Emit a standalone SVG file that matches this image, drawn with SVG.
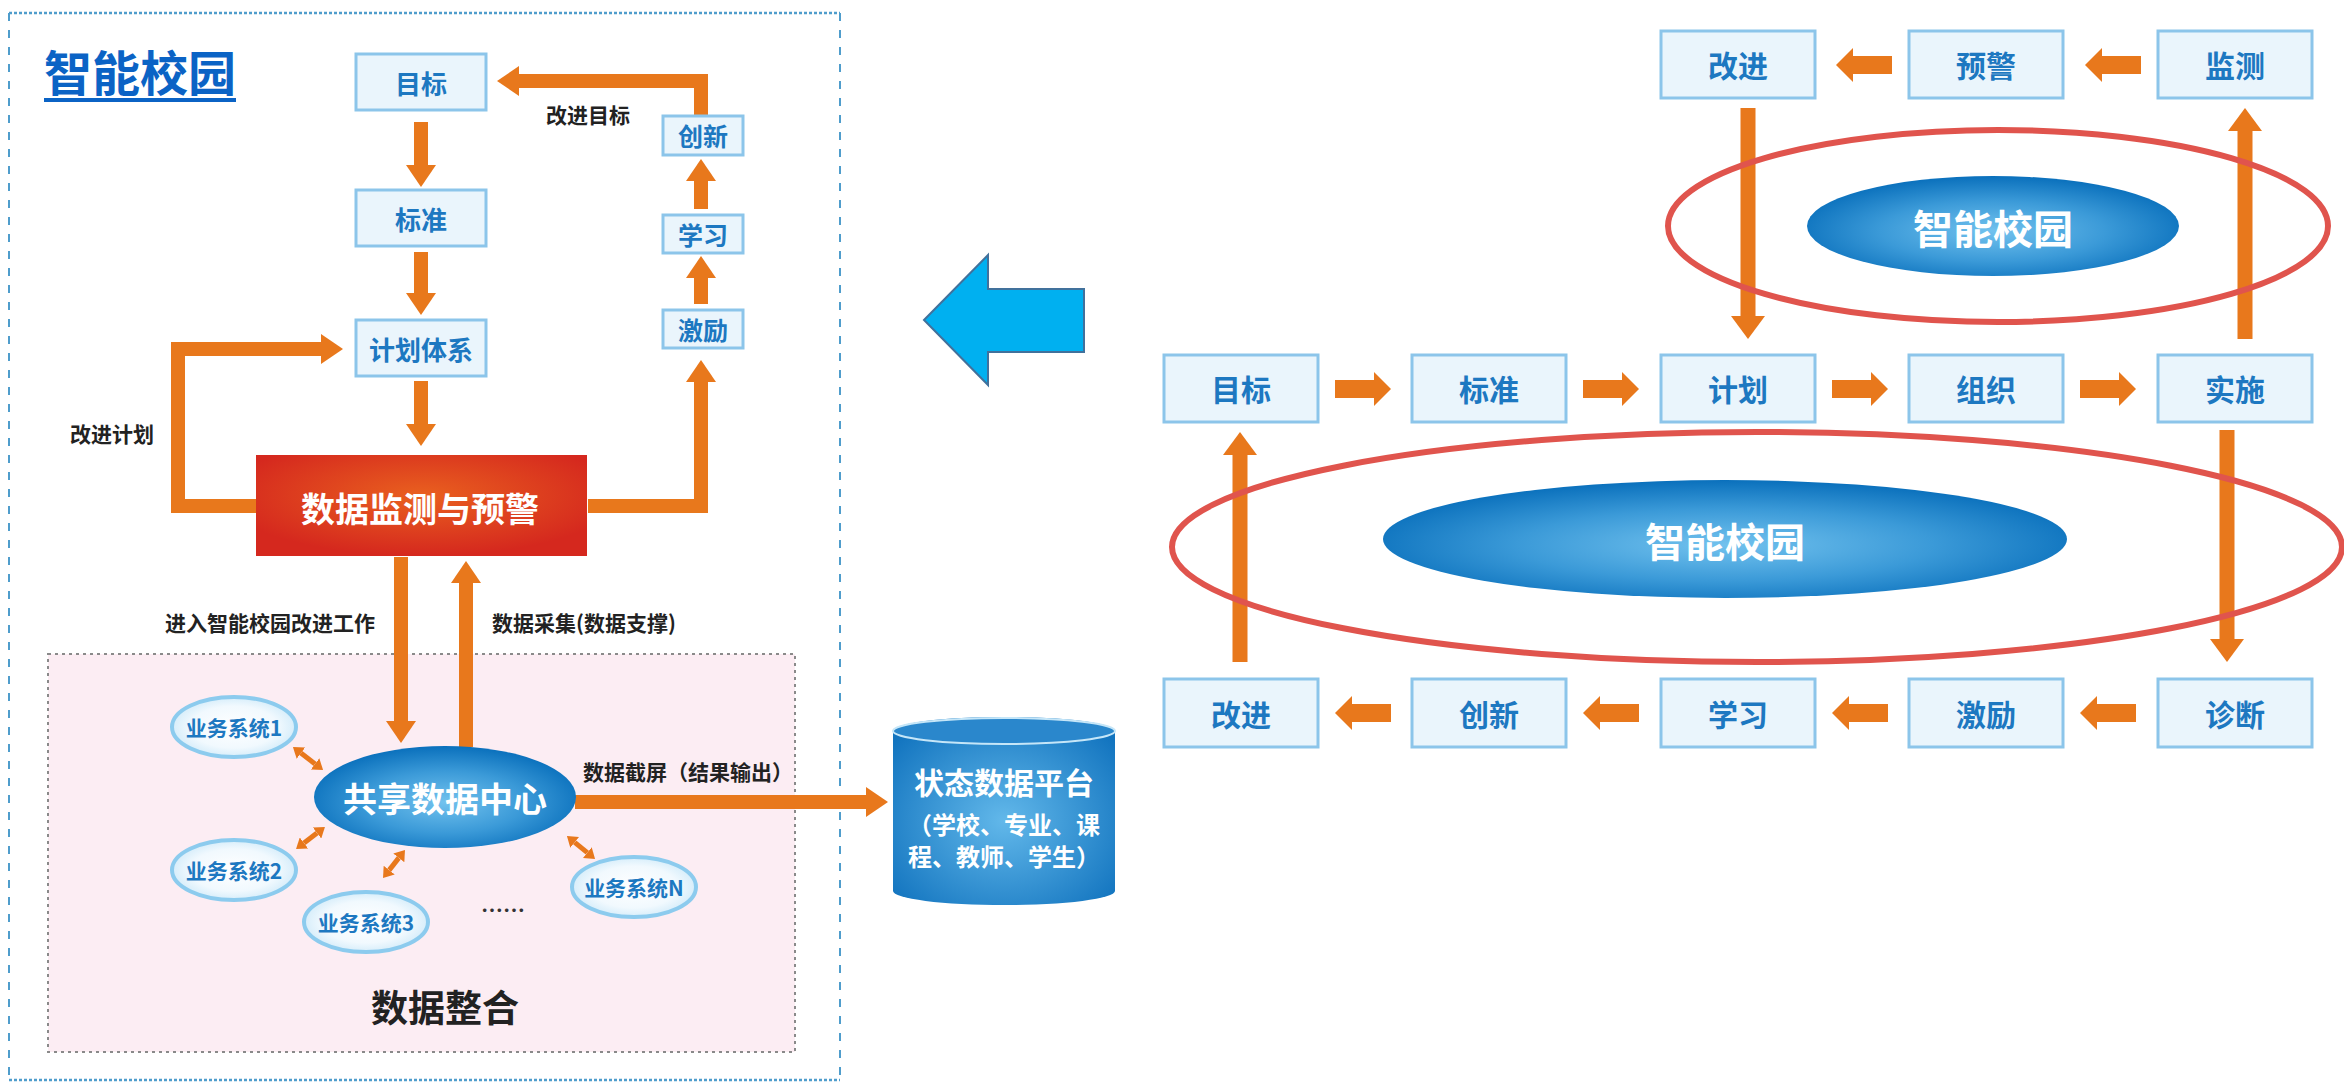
<svg xmlns="http://www.w3.org/2000/svg" width="2344" height="1089" viewBox="0 0 2344 1089">
<defs>
<style>
text{font-family:"Noto Sans CJK SC","Noto Sans",sans-serif;font-weight:700;dominant-baseline:central;text-anchor:middle}
.box{fill:#eaf5fc;stroke:#8cc5ea;stroke-width:3}
.bt{fill:#1d78c1}
.lbl{fill:#222;font-size:21px}
.sys{fill:url(#gSys);stroke:#8ccbee;stroke-width:4}
.sst{fill:#1d78c1;font-size:21px}
.wt{fill:#fff}
.th{fill:none;stroke:#e8781c;stroke-width:14;stroke-linejoin:miter}
.tr{fill:none;stroke:#e8781c;stroke-width:15}
.sm{fill:none;stroke:#e8781c;stroke-width:5}
.bar{fill:#e8781c}
.ring{fill:none;stroke:#e0544d;stroke-width:6}
</style>
<radialGradient id="gBlue" cx="50%" cy="55%" r="55%">
<stop offset="0" stop-color="#72c2ee"/>
<stop offset="0.55" stop-color="#3b9ad8"/>
<stop offset="1" stop-color="#0a70bc"/>
</radialGradient>
<radialGradient id="gCyl" cx="50%" cy="55%" r="65%">
<stop offset="0" stop-color="#62b8ea"/>
<stop offset="1" stop-color="#1274bf"/>
</radialGradient>
<radialGradient id="gRed" cx="50%" cy="40%" r="60%">
<stop offset="0" stop-color="#e9601f"/>
<stop offset="1" stop-color="#d5281e"/>
</radialGradient>
<radialGradient id="gSys" cx="50%" cy="50%" r="50%">
<stop offset="0" stop-color="#ffffff"/>
<stop offset="0.7" stop-color="#f1f9fe"/>
<stop offset="1" stop-color="#d6edfa"/>
</radialGradient>
<marker id="a1" viewBox="0 0 22 30" markerWidth="22" markerHeight="30" refX="0" refY="15" orient="auto" markerUnits="userSpaceOnUse"><path d="M0,0 L22,15 L0,30 Z" fill="#e8781c"/></marker>
<marker id="a2" viewBox="0 0 23 34" markerWidth="23" markerHeight="34" refX="0" refY="17" orient="auto" markerUnits="userSpaceOnUse"><path d="M0,0 L23,17 L0,34 Z" fill="#e8781c"/></marker>
<marker id="a3" viewBox="0 0 10 14" markerWidth="10" markerHeight="14" refX="0" refY="7" orient="auto-start-reverse" markerUnits="userSpaceOnUse"><path d="M0,0 L10,7 L0,14 Z" fill="#e8781c"/></marker>
<path id="barR" d="M0,-9 H39 V-17 L56,0 L39,17 V9 H0 Z"/>
<path id="barL" d="M0,0 L17,-17 V-9 H56 V9 H17 V17 Z"/>
</defs>
<rect width="2344" height="1089" fill="#fff"/>

<!-- left panel frame -->
<g id="frame">
<line x1="9" y1="13" x2="840" y2="13" stroke="#4f9dcc" stroke-width="2.5" stroke-dasharray="3 2"/>
<line x1="9" y1="1080" x2="840" y2="1080" stroke="#4f9dcc" stroke-width="2.5" stroke-dasharray="3 2"/>
<line x1="9" y1="13" x2="9" y2="1080" stroke="#4f9dcc" stroke-width="2" stroke-dasharray="8 9"/>
<line x1="840" y1="13" x2="840" y2="1080" stroke="#4f9dcc" stroke-width="2" stroke-dasharray="8 9"/>
</g>
<g id="title">
<text x="140" y="70" style="font-size:48px;fill:#0b63c5">智能校园</text>
<rect x="44" y="98" width="192" height="4" fill="#0b63c5"/>
</g>

<g id="integration">
<rect x="48" y="654" width="747" height="398" fill="#fcedf3" stroke="#8a8a8a" stroke-width="2" stroke-dasharray="3 4"/>
<text x="445" y="1006" style="font-size:37px;fill:#222">数据整合</text>
</g>

<!-- connectors -->
<g id="connectors">
<path class="th" d="M701,116 V81 H519" marker-end="url(#a1)"/>
<path class="th" d="M421,122 V165" marker-end="url(#a1)"/>
<path class="th" d="M421,252 V293" marker-end="url(#a1)"/>
<path class="th" d="M421,381 V424" marker-end="url(#a1)"/>
<path class="th" d="M256,506 H178 V349 H321" marker-end="url(#a1)"/>
<path class="th" d="M588,506 H701 V382" marker-end="url(#a1)"/>
<path class="th" d="M701,304 V278" marker-end="url(#a1)"/>
<path class="th" d="M701,209 V181" marker-end="url(#a1)"/>
<path class="th" d="M401,557 V721" marker-end="url(#a1)"/>
<path class="th" d="M466,747 V583" marker-end="url(#a1)"/>
<path class="th" d="M575,802 H866" marker-end="url(#a1)"/>
<path class="sm" d="M300.9,753.1 L315.1,763.9" marker-start="url(#a3)" marker-end="url(#a3)"/>
<path class="sm" d="M304,843 L317,833" marker-start="url(#a3)" marker-end="url(#a3)"/>
<path class="sm" d="M389.2,870.1 L398.8,857.9" marker-start="url(#a3)" marker-end="url(#a3)"/>
<path class="sm" d="M574.7,842.4 L587.3,852.6" marker-start="url(#a3)" marker-end="url(#a3)"/>
<!-- right panel -->
<path class="tr" d="M1748,108 V316" marker-end="url(#a2)"/>
<path class="tr" d="M2245,339 V131" marker-end="url(#a2)"/>
<path class="tr" d="M2227,430 V639" marker-end="url(#a2)"/>
<path class="tr" d="M1240,662 V455" marker-end="url(#a2)"/>
<g class="bar">
<use href="#barR" x="1335" y="389"/>
<use href="#barR" x="1583" y="389"/>
<use href="#barR" x="1832" y="389"/>
<use href="#barR" x="2080" y="389"/>
<use href="#barL" x="1836" y="65"/>
<use href="#barL" x="2085" y="65"/>
<use href="#barL" x="1335" y="713"/>
<use href="#barL" x="1583" y="713"/>
<use href="#barL" x="1832" y="713"/>
<use href="#barL" x="2080" y="713"/>
</g>
</g>

<!-- left nodes -->
<g id="n-mubiao"><rect class="box" x="356" y="54" width="130" height="56"/><text class="bt" x="421" y="82" style="font-size:26px">目标</text></g>
<g id="n-biaozhun"><rect class="box" x="356" y="190" width="130" height="56"/><text class="bt" x="421" y="218" style="font-size:26px">标准</text></g>
<g id="n-jihua"><rect class="box" x="356" y="320" width="130" height="56"/><text class="bt" x="421" y="348" style="font-size:26px">计划体系</text></g>
<g id="n-chuangxin"><rect class="box" x="663" y="116" width="80" height="39"/><text class="bt" x="703" y="135" style="font-size:25px">创新</text></g>
<g id="n-xuexi"><rect class="box" x="663" y="215" width="80" height="38"/><text class="bt" x="703" y="234" style="font-size:25px">学习</text></g>
<g id="n-jili"><rect class="box" x="663" y="310" width="80" height="38"/><text class="bt" x="703" y="329" style="font-size:25px">激励</text></g>
<g id="n-jiance"><rect x="256" y="455" width="331" height="101" fill="url(#gRed)"/><text class="wt" x="420" y="507" style="font-size:34px">数据监测与预警</text></g>
<g id="labels">
<text class="lbl" x="588" y="114">改进目标</text>
<text class="lbl" x="112" y="433">改进计划</text>
<text class="lbl" x="270" y="622">进入智能校园改进工作</text>
<text class="lbl" x="584" y="622">数据采集(数据支撑)</text>
<text class="lbl" x="688" y="771">数据截屏（结果输出）</text>
<text x="503" y="908" style="font-size:22px;fill:#333">……</text>
</g>
<g id="n-center"><ellipse cx="445" cy="797" rx="131" ry="51" fill="url(#gBlue)"/><text class="wt" x="445" y="797" style="font-size:34px">共享数据中心</text></g>
<g id="n-sys1"><ellipse class="sys" cx="234" cy="727" rx="62" ry="30"/><text class="sst" x="234" y="727">业务系统1</text></g>
<g id="n-sys2"><ellipse class="sys" cx="234" cy="870" rx="62" ry="30"/><text class="sst" x="234" y="870">业务系统2</text></g>
<g id="n-sys3"><ellipse class="sys" cx="366" cy="922" rx="62" ry="30"/><text class="sst" x="366" y="922">业务系统3</text></g>
<g id="n-sysn"><ellipse class="sys" cx="634" cy="887" rx="62" ry="30"/><text class="sst" x="634" y="887">业务系统N</text></g>
<g id="n-platform">
<path d="M893,731 V891 A111,14 0 0 0 1115,891 V731 A111,14 0 0 0 893,731 Z" fill="url(#gCyl)"/>
<ellipse cx="1004" cy="731" rx="111" ry="13" fill="#2a87cc" stroke="#c5e6f8" stroke-width="2"/>
<text class="wt" x="1004" y="781" style="font-size:30px">状态数据平台</text>
<text class="wt" x="1004" y="823" style="font-size:24px">（学校、专业、课</text>
<text class="wt" x="1004" y="855" style="font-size:24px">程、教师、学生）</text>
</g>

<g id="big-arrow"><path d="M924,320 L988,255 V289 H1084 V352 H988 V385 Z" fill="#00b0f0" stroke="#41719c" stroke-width="2"/></g>

<!-- right panel -->
<g id="r-ring1"><ellipse cx="1993" cy="226" rx="186" ry="50" fill="url(#gBlue)"/><text class="wt" x="1993" y="227" style="font-size:40px">智能校园</text><ellipse class="ring" cx="1998" cy="226" rx="330" ry="96"/></g>
<g id="r-ring2"><ellipse cx="1725" cy="539" rx="342" ry="59" fill="url(#gBlue)"/><text class="wt" x="1725" y="540" style="font-size:40px">智能校园</text><ellipse class="ring" cx="1757" cy="547" rx="585" ry="115"/></g>

<g id="r-gaijin1"><rect class="box" x="1661" y="31" width="154" height="67"/><text class="bt" x="1738" y="64" style="font-size:30px">改进</text></g>
<g id="r-yujing"><rect class="box" x="1909" y="31" width="154" height="67"/><text class="bt" x="1986" y="64" style="font-size:30px">预警</text></g>
<g id="r-jiance"><rect class="box" x="2158" y="31" width="154" height="67"/><text class="bt" x="2235" y="64" style="font-size:30px">监测</text></g>

<g id="r-mubiao"><rect class="box" x="1164" y="355" width="154" height="67"/><text class="bt" x="1241" y="388" style="font-size:30px">目标</text></g>
<g id="r-biaozhun"><rect class="box" x="1412" y="355" width="154" height="67"/><text class="bt" x="1489" y="388" style="font-size:30px">标准</text></g>
<g id="r-jihua"><rect class="box" x="1661" y="355" width="154" height="67"/><text class="bt" x="1738" y="388" style="font-size:30px">计划</text></g>
<g id="r-zuzhi"><rect class="box" x="1909" y="355" width="154" height="67"/><text class="bt" x="1986" y="388" style="font-size:30px">组织</text></g>
<g id="r-shishi"><rect class="box" x="2158" y="355" width="154" height="67"/><text class="bt" x="2235" y="388" style="font-size:30px">实施</text></g>

<g id="r-gaijin2"><rect class="box" x="1164" y="679" width="154" height="68"/><text class="bt" x="1241" y="713" style="font-size:30px">改进</text></g>
<g id="r-chuangxin"><rect class="box" x="1412" y="679" width="154" height="68"/><text class="bt" x="1489" y="713" style="font-size:30px">创新</text></g>
<g id="r-xuexi"><rect class="box" x="1661" y="679" width="154" height="68"/><text class="bt" x="1738" y="713" style="font-size:30px">学习</text></g>
<g id="r-jili"><rect class="box" x="1909" y="679" width="154" height="68"/><text class="bt" x="1986" y="713" style="font-size:30px">激励</text></g>
<g id="r-zhenduan"><rect class="box" x="2158" y="679" width="154" height="68"/><text class="bt" x="2235" y="713" style="font-size:30px">诊断</text></g>
</svg>
